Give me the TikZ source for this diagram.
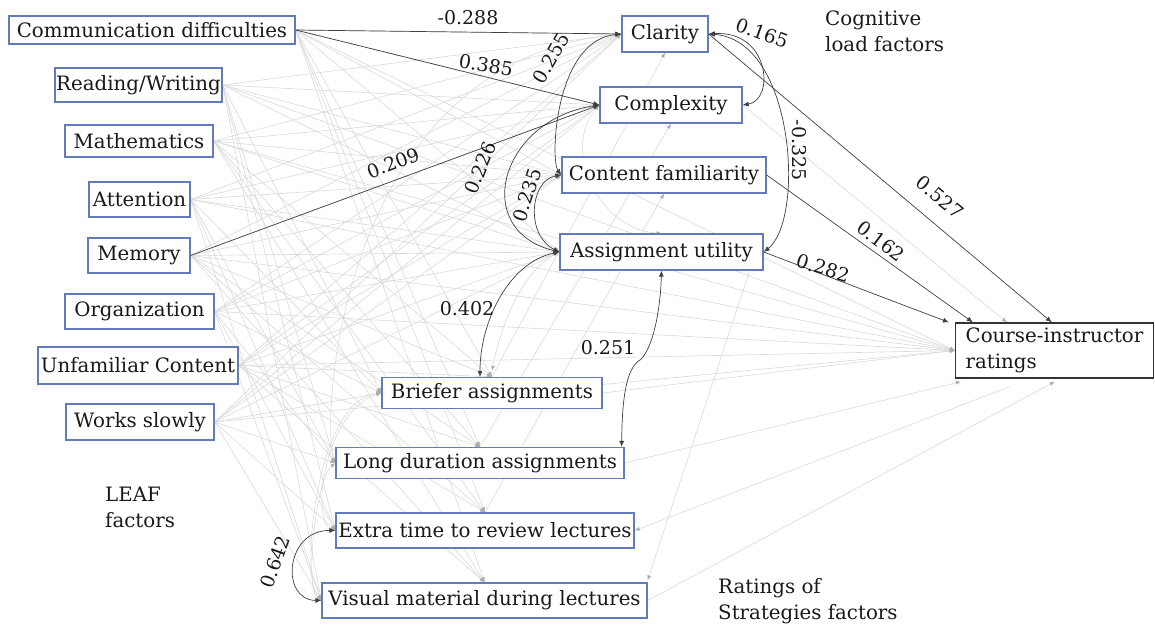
\documentclass[tikz,border=0pt]{standalone}
\usepackage{fontspec}
\newfontfamily\dserif{DejaVu Serif}
\usetikzlibrary{arrows.meta,calc}
\definecolor{boxblue}{RGB}{98,124,186}
\pgfdeclarelayer{bg}
\pgfsetlayers{bg,main}
\tikzset{
  box/.style={draw=boxblue, line width=1.3pt, fill=white, inner sep=0pt, text=black!90, font=\dserif\fontsize{19.8}{26}\selectfont},
  dk/.style={draw=black!75, line width=0.7pt, -{Latex[length=6pt,width=5pt]}},
  dd/.style={draw=black!75, line width=0.7pt, {Latex[length=6pt,width=5pt]}-{Latex[length=6pt,width=5pt]}},
  lt/.style={draw=black!15, line width=0.6pt, -{Latex[length=5pt,width=4pt,color=black!32]}},
  ltd/.style={draw=black!15, line width=0.6pt, {Latex[length=5pt,width=4pt,color=black!32]}-{Latex[length=5pt,width=4pt,color=black!32]}},
  lbl/.style={font=\dserif\fontsize{19}{24}\selectfont, text=black!90, inner sep=0pt},
  capt/.style={font=\dserif\fontsize{19.8}{26}\selectfont, text=black!90, align=left, anchor=west, inner sep=0pt},
}
\begin{document}
\begin{tikzpicture}[x=1pt,y=-1pt]
\useasboundingbox (0,0) rectangle (1155,628);
% ---- nodes ----
\path
 (152,30) node[box, minimum width=286, minimum height=28] (cd) {Communication difficulties}
 (138.5,85) node[box, minimum width=167, minimum height=34] (rw) {Reading/Writing}
 (139,141) node[box, minimum width=148, minimum height=32] (ma) {Mathematics}
 (139.5,199.5) node[box, minimum width=101, minimum height=35] (at) {Attention}
 (139,255.5) node[box, minimum width=102, minimum height=35] (me) {Memory}
 (139.5,311.5) node[box, minimum width=149, minimum height=35] (or) {Organization}
 (138,365.5) node[box, minimum width=200, minimum height=37] (uc) {Unfamiliar Content}
 (140,422) node[box, minimum width=148, minimum height=36] (ws) {Works slowly}
 (665,34) node[box, minimum width=86, minimum height=36] (cl) {Clarity}
 (671,105) node[box, minimum width=142, minimum height=36] (cx) {Complexity}
 (664,175) node[box, minimum width=204, minimum height=36] (cf) {Content familiarity}
 (661.5,252) node[box, minimum width=203, minimum height=36] (au) {Assignment utility}
 (492,393) node[box, minimum width=220, minimum height=31] (br) {Briefer assignments}
 (480,463) node[box, minimum width=288, minimum height=31] (ld) {Long duration assignments}
 (485,530.5) node[box, minimum width=298, minimum height=35] (et) {Extra time to review lectures}
 (484.5,600.5) node[box, minimum width=325, minimum height=35] (vm) {Visual material during lectures}
 (1054.5,350.5) node[box, draw=black!80, align=left, minimum width=198, minimum height=55] (cr) {Course-instructor\\ratings};
% ---- light gray paths, behind the boxes ----
\begin{pgfonlayer}{bg}
\foreach \s in {cd,rw,ma,at,me,or,uc,ws}{
  \foreach \t in {cl,cx,cf,au}{ \draw[lt] (\s.east) -- (\t.west); }
  \draw[lt] (\s.east) -- (cr.west);
}
\foreach \s in {cd,ma,me,uc}{
  \foreach \t in {br,ld,et,vm}{ \draw[lt] (\s.east) -- (\t.north); }
}
\foreach \s in {rw,at,or,ws}{
  \foreach \t in {br,ld,et,vm}{ \draw[lt] (\s.east) -- (\t.west); }
}
\draw[lt] (br.north) -- (cl.south);
\draw[lt] (ld.north) -- (cx.south);
\draw[lt] (et.north) -- (cf.south);
\draw[lt] (cx.east) -- ($(cr.north west)+(52,0)$);
\draw[lt] (br.east) -- (cr.west);
\draw[lt] (ld.east) -- ($(cr.south west)+(6,3)$);
\draw[lt] (vm.east) -- ($(cr.south west)+(100,3)$);
\draw[lt] ($(cr.south west)+(55,8)$) -- (et.east);
\draw[lt] ($(au.south east)+(-14,0)$) -- ($(vm.north east)+(0,-2)$);
\draw[lt] (au.west) .. controls (520,270) and (500,330) .. ($(br.north)+(0,-6)$);
\draw[ltd] (br.west) .. controls (315,400) and (300,580) .. (vm.west);
\draw[ltd] (br.west) .. controls (325,410) and (310,520) .. (et.west);
\draw[ltd] (ld.west) .. controls (315,480) and (305,590) .. (vm.west);
\draw[ltd] (cl.west) .. controls (340,60) and (320,420) .. (ld.west);
\draw[ltd] (cx.west) .. controls (560,150) and (600,230) .. (au.north);
\end{pgfonlayer}
% ---- dark paths ----
\draw[dk] (cd.east) -- (cl.west);
\draw[dk] (cd.east) -- (cx.west);
\draw[dk] (me.east) -- (cx.west);
\draw[dd] (cl.west) .. controls (555,40) and (550,160) .. (cf.west);
\draw[dd] (cx.west) .. controls (500,120) and (470,230) .. (au.west);
\draw[dd] (cf.west) .. controls (530,180) and (525,235) .. (au.west);
\draw[dd] (cl.east) .. controls (770,30) and (775,100) .. (cx.east);
\draw[dd] (cl.east) .. controls (795,40) and (805,220) .. (au.east);
\draw[dd] (au.west) .. controls (510,262) and (480,320) .. ($(br.north)+(-12,0)$);
\draw[dd] (au.south) .. controls (660,320) and (650,352) .. (640,360) .. controls (626,368) and (622,400) .. ($(ld.north east)+(-3,0)$);
\draw[dd] (et.west) .. controls (285,530) and (280,600) .. (vm.west);
\draw[dk] (cl.east) -- ($(cr.north west)+(97,0)$);
\draw[dk] (cf.east) -- ($(cr.north west)+(18,0)$);
\draw[dk] (au.east) -- ($(cr.north west)+(-6,0)$);
% ---- labels ----
\node[lbl] at (468,18) {-0.288};
\node[lbl, rotate=-9] at (486,65) {0.385};
\node[lbl, rotate=21] at (393,163) {0.209};
\node[lbl, rotate=60] at (551,58) {0.255};
\node[lbl, rotate=68] at (480,168) {0.226};
\node[lbl, rotate=72] at (527,195) {0.235};
\node[lbl, rotate=-20] at (762,33) {0.165};
\node[lbl, rotate=-90] at (799,150) {-0.325};
\node[lbl] at (467,309) {0.402};
\node[lbl] at (608,348) {0.251};
\node[lbl, rotate=70] at (275,562) {0.642};
\node[lbl, rotate=-40] at (940,197) {0.527};
\node[lbl, rotate=-37] at (881,241) {0.162};
\node[lbl, rotate=-17] at (823,268) {0.282};
% ---- captions ----
\node[capt] (c1) at (825,31) {Cognitive\\load factors};
\node[capt] (c2) at (105,507) {LEAF\\factors};
\node[capt] (c3) at (718,601) {Ratings of\\Strategies factors};
\end{tikzpicture}
\end{document}
